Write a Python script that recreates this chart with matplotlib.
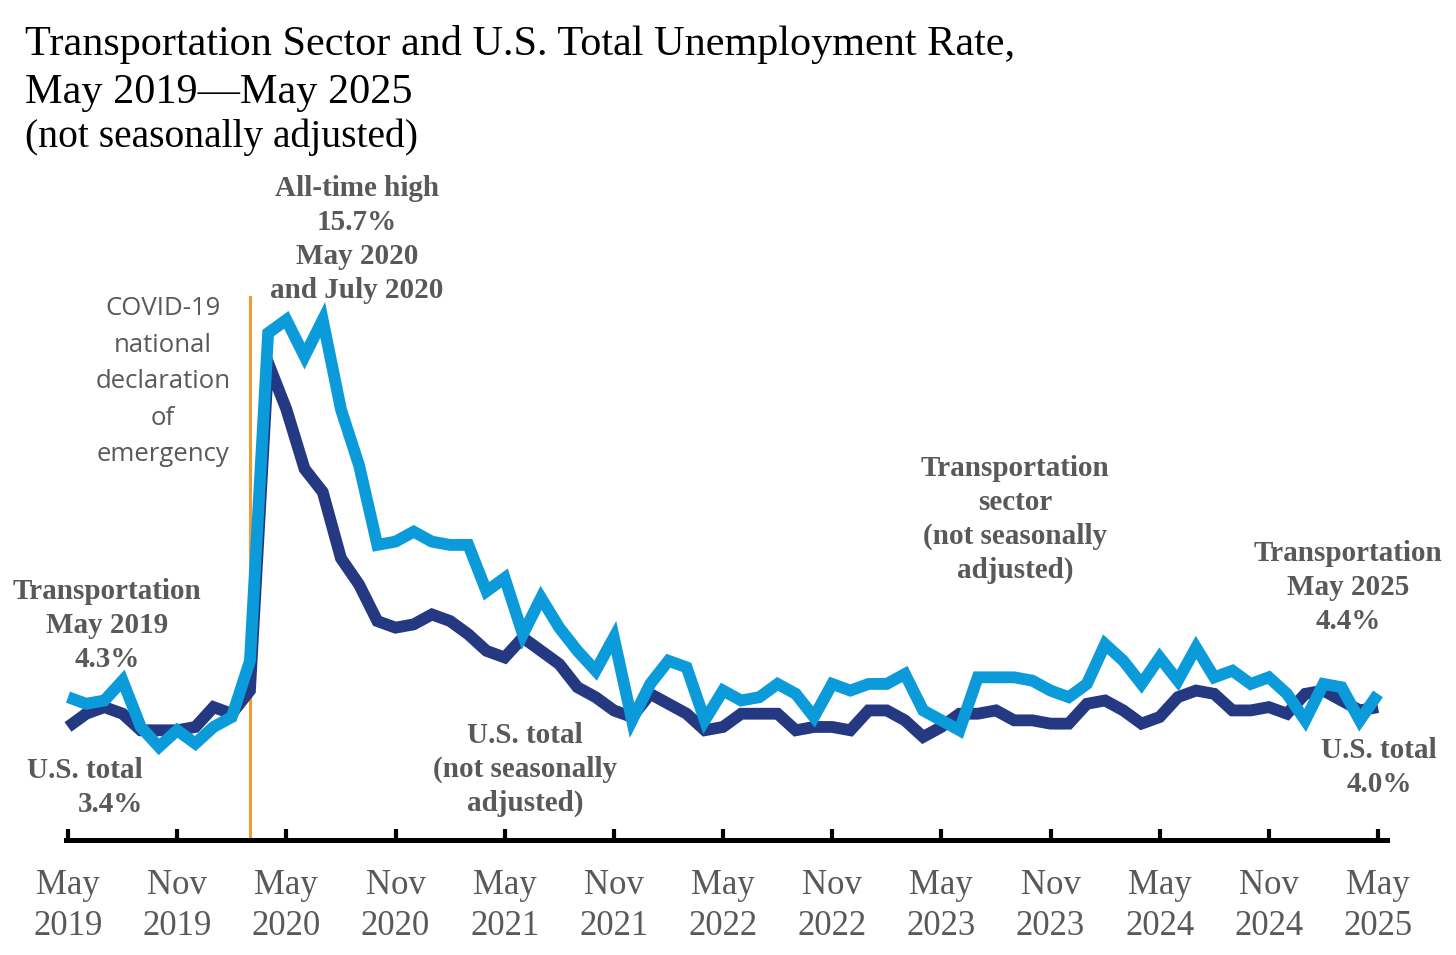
import numpy as np
import matplotlib
matplotlib.use("Agg")
import matplotlib.pyplot as plt

# ---------------- data ----------------
months = ["May 2019", "May 2025"]  # first and last month of the series (monthly)
us_total = [3.4, 3.8, 4.0, 3.8, 3.3, 3.3, 3.3, 3.4,
            4.0, 3.8, 4.5, 14.4, 13.0, 11.2, 10.5, 8.5, 7.7, 6.6, 6.4, 6.5,
            6.8, 6.6, 6.2, 5.7, 5.5, 6.1, 5.7, 5.3, 4.6, 4.3, 3.9, 3.7,
            4.4, 4.1, 3.8, 3.3, 3.4, 3.8, 3.8, 3.8, 3.3, 3.4, 3.4, 3.3,
            3.9, 3.9, 3.6, 3.1, 3.4, 3.8, 3.8, 3.9, 3.6, 3.6, 3.5, 3.5,
            4.1, 4.2, 3.9, 3.5, 3.7, 4.3, 4.5, 4.4, 3.9, 3.9, 4.0, 3.8,
            4.4, 4.5, 4.2, 3.9, 4.0]
transport = [4.3, 4.1, 4.2, 4.8, 3.4, 2.8, 3.3, 2.9,
             3.4, 3.7, 5.4, 15.3, 15.7, 14.6, 15.7, 13.0, 11.3, 8.9, 9.0, 9.3,
             9.0, 8.9, 8.9, 7.5, 7.9, 6.2, 7.3, 6.4, 5.7, 5.1, 6.1, 3.6,
             4.7, 5.4, 5.2, 3.6, 4.5, 4.2, 4.3, 4.7, 4.4, 3.7, 4.7, 4.5,
             4.7, 4.7, 5.0, 3.9, 3.6, 3.3, 4.9, 4.9, 4.9, 4.8, 4.5, 4.3,
             4.7, 5.9, 5.4, 4.7, 5.5, 4.8, 5.8, 4.9, 5.1, 4.7, 4.9, 4.4,
             3.6, 4.7, 4.6, 3.6, 4.4]
tick_months = [0, 6, 12, 18, 24, 30, 36, 42, 48, 54, 60, 66, 72]
tick_labels = ["May\n2019", "Nov\n2019", "May\n2020", "Nov\n2020", "May\n2021",
               "Nov\n2021", "May\n2022", "Nov\n2022", "May\n2023", "Nov\n2023",
               "May\n2024", "Nov\n2024", "May\n2025"]
covid_month = 10  # March 2020

# ---------------- style ----------------
W, H = 1456, 955
LIGHT = "#0C9BDA"
DARK = "#253882"
ORANGE = "#F39A32"
GRAY = "#595959"
SERIF = "Liberation Serif"

fig = plt.figure(figsize=(W / 100, H / 100), dpi=100)
fig.patch.set_facecolor("white")

def fx(x):
    return x / W

def fy(y):
    return 1 - y / H

ax_left, ax_right, ax_top, ax_bot = 68, 1378, 300, 839.5
ax = fig.add_axes([fx(ax_left), fy(ax_bot), (ax_right - ax_left) / W, (ax_bot - ax_top) / H])
ax.set_xlim(0, 72)
ax.set_ylim(0, 16.3)

x = np.arange(len(us_total))
ax.plot([covid_month, covid_month], [0, 16.39], color=ORANGE, lw=2.2, zorder=1, clip_on=False)
ax.plot(x, us_total, color=DARK, lw=8.5, solid_joinstyle="miter", solid_capstyle="butt", zorder=2, clip_on=False)
ax.plot(x, transport, color=LIGHT, lw=8.5, solid_joinstyle="miter", solid_capstyle="butt", zorder=3, clip_on=False)

for s in ["top", "right", "left"]:
    ax.spines[s].set_visible(False)
ax.spines["bottom"].set_linewidth(3.6)
ax.spines["bottom"].set_color("black")
ax.spines["bottom"].set_bounds(-0.1, 72.5)
ax.set_yticks([])
ax.set_xticks(tick_months)
ax.set_xticklabels(tick_labels, fontsize=25, family=SERIF, color=GRAY, linespacing=1.32)
ax.tick_params(axis="x", direction="in", length=8, width=3, color="black", pad=21)
ax.patch.set_alpha(0)

# ---------------- titles ----------------
fig.text(fx(25), fy(55), "Transportation Sector and U.S. Total Unemployment Rate,",
         fontsize=30.4, family=SERIF, color="black", va="baseline", ha="left")
fig.text(fx(25), fy(103), "May 2019\u2014May 2025",
         fontsize=30.4, family=SERIF, color="black", va="baseline", ha="left")
fig.text(fx(25), fy(147), "(not seasonally adjusted)",
         fontsize=28.5, family=SERIF, color="black", va="baseline", ha="left")

# ---------------- annotations ----------------
def block(lines, xc, y0, dy, ha="center", **kw):
    for i, t in enumerate(lines):
        fig.text(fx(xc), fy(y0 + i * dy), t, ha=ha, va="baseline", **kw)

bold = dict(fontsize=21, family=SERIF, fontweight="bold", color=GRAY)
block(["All-time high", "15.7%", "May 2020", "and July 2020"], 357, 196, 34, **bold)
block(["Transportation", "May 2019", "4.3%"], 107, 599, 34, **bold)
block(["U.S. total", "3.4%"], 143, 778, 34, ha="right", **bold)
block(["U.S. total", "(not seasonally", "adjusted)"], 525, 743, 34, **bold)
block(["Transportation", "sector", "(not seasonally", "adjusted)"], 1015, 476, 34, **bold)
block(["Transportation", "May 2025", "4.4%"], 1348, 561, 34, **bold)
block(["U.S. total", "4.0%"], 1379, 758, 34, **bold)

block(["COVID-19", "national", "declaration", "of", "emergency"], 163, 315, 36.5,
      fontsize=18.5, family="Open Sans", color=GRAY)

fig.savefig("out.png", dpi=100, facecolor="white")
